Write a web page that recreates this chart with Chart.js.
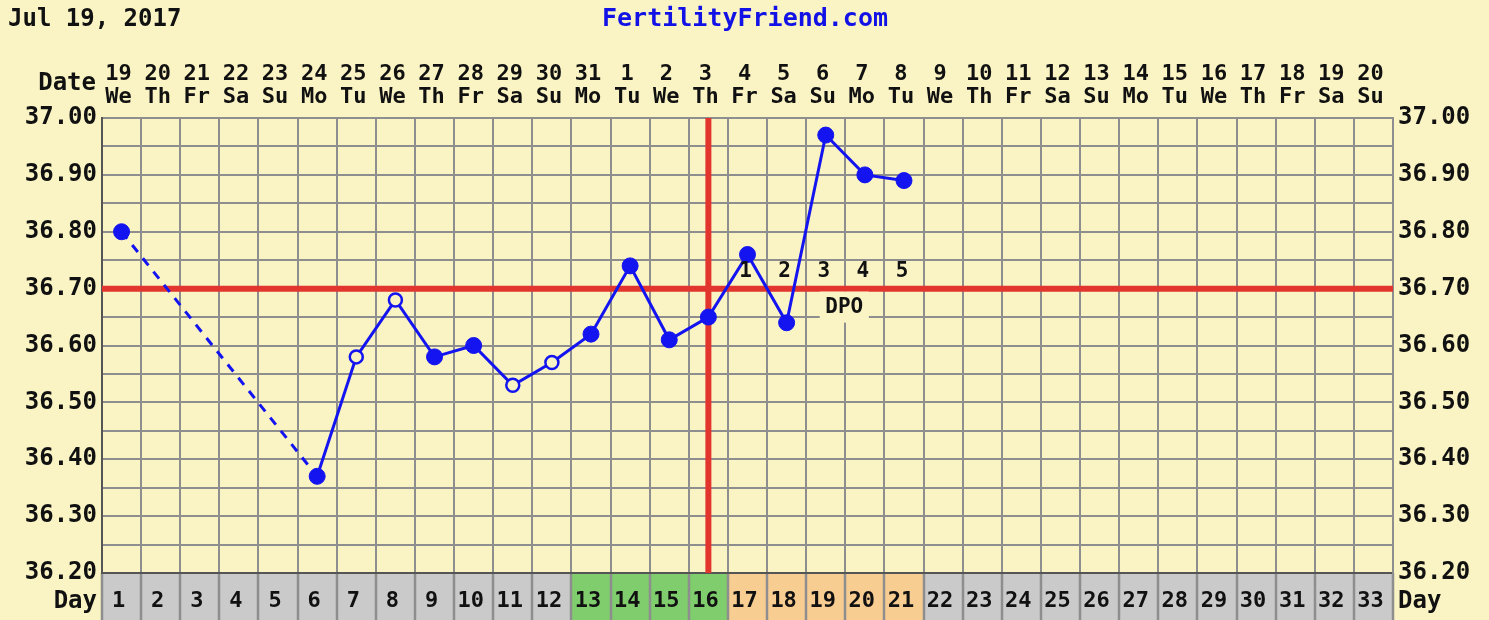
<!DOCTYPE html>
<html><head><meta charset="utf-8">
<script src="https://cdn.jsdelivr.net/npm/chart.js@4/dist/chart.umd.min.js"></script>
<style>html,body{margin:0;padding:0;background:#FAF4C4;} canvas{display:block;}</style>
</head><body>
<canvas id="c" width="1489" height="620"></canvas>
<script>
const chartDate = 'Jul 19, 2017';
const siteName = 'FertilityFriend.com';
const days = ['1','2','3','4','5','6','7','8','9','10','11','12','13','14','15','16','17','18','19','20','21','22','23','24','25','26','27','28','29','30','31','32','33'];
const dateNums = ['19','20','21','22','23','24','25','26','27','28','29','30','31','1','2','3','4','5','6','7','8','9','10','11','12','13','14','15','16','17','18','19','20'];
const weekdays = ['We','Th','Fr','Sa','Su','Mo','Tu','We','Th','Fr','Sa','Su','Mo','Tu','We','Th','Fr','Sa','Su','Mo','Tu','We','Th','Fr','Sa','Su','Mo','Tu','We','Th','Fr','Sa','Su'];
const temps = [36.80,null,null,null,null,36.37,36.58,36.68,36.58,36.60,36.53,36.57,36.62,36.74,36.61,36.65,36.76,36.64,36.97,36.90,36.89,null,null,null,null,null,null,null,null,null,null,null,null];
const openPoint = [false,false,false,false,false,false,true,true,false,false,true,true,false,false,false,false,false,false,false,false,false,false,false,false,false,false,false,false,false,false,false,false,false];
const yTicks = [36.20,36.25,36.30,36.35,36.40,36.45,36.50,36.55,36.60,36.65,36.70,36.75,36.80,36.85,36.90,36.95,37.00];
const coverline = 36.70;
const ovulationDay = 16;
const fertileDays = [13,14,15,16];
const lutealDays = [17,18,19,20,21];
const dpoLabels = ['1','2','3','4','5'];
const dpoTitle = 'DPO';

const BG = '#FAF4C4';
const BLUE = '#1414F0';
const RED = '#E2352D';
const GRID = '#8E8E8E';
const MONO = '"DejaVu Sans Mono", monospace';

const decor = {
  id: 'decor',
  beforeDraw(chart) {
    const ctx = chart.ctx, x = chart.scales.x, ca = chart.chartArea;
    ctx.save();
    ctx.fillStyle = BG;
    ctx.fillRect(0, 0, chart.width, chart.height);
    const half = (x.getPixelForValue(1) - x.getPixelForValue(0)) / 2;
    const top = ca.bottom, bot = chart.height;
    ctx.fillStyle = '#CACACA';
    ctx.fillRect(ca.left, top, ca.right - ca.left, bot - top);
    days.forEach((d, i) => {
      const n = i + 1;
      let col = null;
      if (fertileDays.includes(n)) col = '#80CD6E';
      if (lutealDays.includes(n)) col = '#F7CD92';
      if (col) {
        ctx.fillStyle = col;
        const cx = x.getPixelForValue(i);
        ctx.fillRect(cx - half, top, half * 2, bot - top);
      }
    });
    ctx.strokeStyle = GRID;
    ctx.lineWidth = 2.5;
    for (let i = 0; i <= days.length; i++) {
      const px = Math.round(x.getPixelForValue(0) - half + i * half * 2);
      ctx.beginPath(); ctx.moveTo(px, top); ctx.lineTo(px, bot); ctx.stroke();
    }
    ctx.restore();
  },
  beforeDatasetsDraw(chart) {
    const ctx = chart.ctx, x = chart.scales.x, y = chart.scales.y, ca = chart.chartArea;
    ctx.save();
    ctx.strokeStyle = RED;
    ctx.lineWidth = 6;
    const cy = y.getPixelForValue(coverline);
    ctx.beginPath(); ctx.moveTo(ca.left, cy); ctx.lineTo(ca.right, cy); ctx.stroke();
    const ox = x.getPixelForValue(ovulationDay - 1);
    ctx.beginPath(); ctx.moveTo(ox, ca.top); ctx.lineTo(ox, ca.bottom); ctx.stroke();
    const bx1 = x.getPixelForValue(lutealDays[2] - 1) - 6;
    const bx2 = x.getPixelForValue(lutealDays[3] - 1) + 4;
    ctx.fillStyle = BG;
    ctx.fillRect(bx1, cy + 3, bx2 - bx1, 31);
    ctx.fillStyle = '#111';
    ctx.font = 'bold 21px ' + MONO;
    ctx.textAlign = 'center'; ctx.textBaseline = 'middle';
    ctx.fillText(dpoTitle, (bx1 + bx2) / 2, cy + 19);
    ctx.restore();
  },
  afterDatasetsDraw(chart) {
    const ctx = chart.ctx, x = chart.scales.x, y = chart.scales.y;
    ctx.save();
    ctx.fillStyle = '#111';
    ctx.font = 'bold 21px ' + MONO;
    ctx.textAlign = 'center'; ctx.textBaseline = 'middle';
    const cy = y.getPixelForValue(coverline);
    lutealDays.forEach((d, i) => {
      ctx.fillText(dpoLabels[i], x.getPixelForValue(d - 1) - 2, cy - 17);
    });
    ctx.restore();
  },
  afterDraw(chart) {
    const ctx = chart.ctx, ca = chart.chartArea;
    ctx.save();
    ctx.textBaseline = 'middle';
    ctx.font = 'bold 24px ' + MONO;
    ctx.fillStyle = '#111';
    ctx.textAlign = 'left';
    ctx.fillText(chartDate, 8, 20);
    ctx.fillStyle = '#1212E6';
    ctx.textAlign = 'center';
    ctx.font = 'bold 25px ' + MONO;
    ctx.fillText(siteName, 745, 19);
    ctx.fillStyle = '#111';
    ctx.font = 'bold 24px ' + MONO;
    ctx.textAlign = 'right';
    ctx.fillText('Date', 96, 84);
    ctx.fillText('Day', 97, 602);
    ctx.textAlign = 'left';
    ctx.fillText('Day', ca.right + 5, 602);
    ctx.restore();
  }
};

const tickFont = { family: MONO, size: 24, weight: 'bold' };
const yLabel = v => (Math.round(v * 100) % 10 === 0 ? Number(v).toFixed(2) : '');
const gapBefore = c => (c.p1DataIndex > 0 && temps[c.p1DataIndex - 1] == null ? [9, 8] : undefined);

new Chart(document.getElementById('c'), {
  type: 'line',
  data: {
    labels: days,
    datasets: [{
      data: temps,
      borderColor: BLUE,
      borderWidth: 3,
      spanGaps: true,
      segment: { borderDash: gapBefore },
      pointBackgroundColor: openPoint.map(o => o ? BG : BLUE),
      pointBorderColor: BLUE,
      pointBorderWidth: openPoint.map(o => o ? 2.5 : 1),
      pointRadius: openPoint.map(o => o ? 6.5 : 8),
      tension: 0
    }]
  },
  options: {
    responsive: false,
    devicePixelRatio: 1,
    animation: false,
    layout: { padding: 0 },
    plugins: { legend: { display: false }, tooltip: { enabled: false } },
    scales: {
      x: {
        type: 'category', position: 'bottom', offset: true,
        grid: { offset: true, color: GRID, lineWidth: 2, drawTicks: false },
        border: { color: '#555', width: 2 },
        ticks: { font: { family: MONO, size: 22, weight: 'bold' }, color: '#111', padding: 15, labelOffset: -3, maxRotation: 0, autoSkip: false },
        afterFit: s => { s.height = 47; }
      },
      x2: {
        type: 'category', position: 'top', offset: true,
        labels: dateNums.map((d, i) => [d, weekdays[i]]),
        grid: { display: false, drawTicks: false },
        border: { display: false },
        ticks: { font: { family: MONO, size: 22, weight: 'bold', lineHeight: 1.05 }, color: '#111', padding: 9, labelOffset: -3, maxRotation: 0, autoSkip: false },
        afterFit: s => { s.height = 118; }
      },
      y: {
        type: 'linear', position: 'left', min: 36.2, max: 37.0,
        afterBuildTicks: s => { s.ticks = yTicks.map(v => ({ value: v })); },
        grid: { color: GRID, lineWidth: 2, drawTicks: false },
        border: { color: '#555', width: 2 },
        ticks: { font: tickFont, color: '#111', padding: 5, autoSkip: false, callback: yLabel },
        afterFit: s => { s.width = 102; }
      },
      y2: {
        type: 'linear', position: 'right', min: 36.2, max: 37.0,
        afterBuildTicks: s => { s.ticks = yTicks.map(v => ({ value: v })); },
        grid: { display: false, drawTicks: false },
        border: { color: GRID, width: 2 },
        ticks: { font: tickFont, color: '#111', padding: 5, autoSkip: false, callback: yLabel },
        afterFit: s => { s.width = 96; }
      }
    }
  },
  plugins: [decor]
});
</script>
</body></html>
